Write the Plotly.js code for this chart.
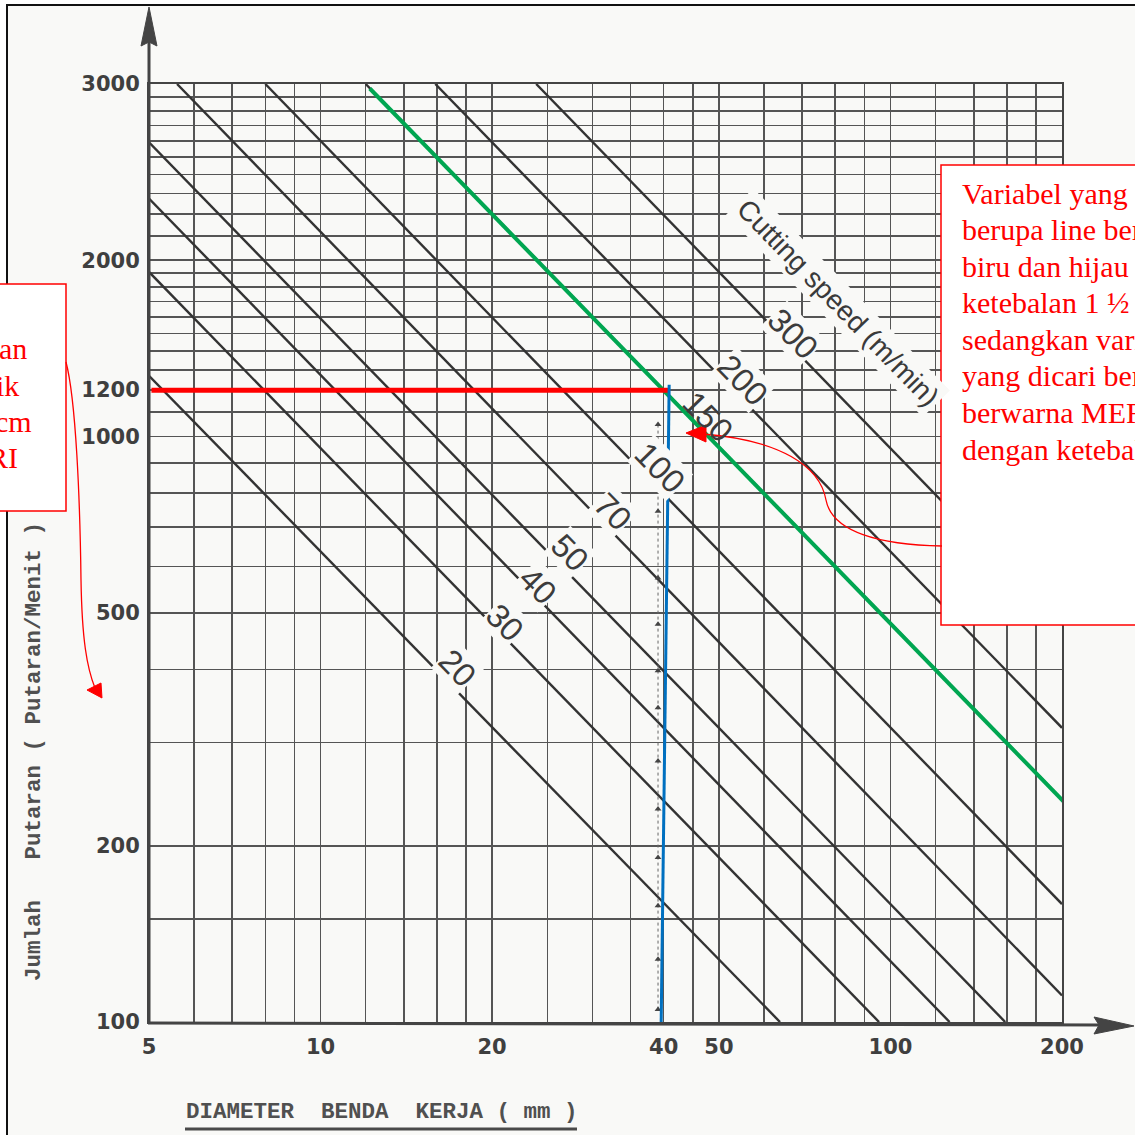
<!DOCTYPE html>
<html>
<head>
<meta charset="utf-8">
<script src="https://cdn.plot.ly/plotly-3.0.1.min.js"></script>
<style>
html,body{margin:0;padding:0;background:#ffffff;}
#chart{width:1135px;height:1135px;}
</style>
</head>
<body>
<div id="chart"></div>
<script>
// ---------------- DATA ----------------
// x axis: diameter of workpiece (mm), log scale
const diameterGrid = [5,6,7,8,9,10,12,14,16,18,20,25,30,35,40,45,50,60,70,80,90,100,120,140,160,180,200];
const diameterLabelVals = [5,10,20,40,50,100,200];
const diameterLabelText = ['5','10','20','40','50','100','200'];

// y axis: revolutions per minute, log scale
const rpmGrid = [100,150,200,300,400,500,600,700,800,900,1000,1100,1200,1300,1400,1500,1600,1700,1800,1900,2000,2200,2400,2600,2800,3000,3200,3400,3600,3800,4000];
const rpmLabelVals = [100,200,500,1000,1200,2000,4000];
const rpmLabelText = ['100','200','500','1000','1200','2000','3000'];

// cutting speed lines (m/min) and their end points
const cuttingSpeeds = [20,30,40,50,70,100,150,200,300];
const speedStartD  = [5,    5,    5,    5,    5.6,  8.0,  12.0, 15.9, 23.9];
const speedStartN  = [1270, 1910, 2550, 3180, 4000, 4000, 4000, 4000, 4000];
const speedEndD    = [64,   95.5, 127,  159,  200,  200,  200,  200,  200];
const speedEndN    = [100,  100,  100,  100,  111,  159,  240,  318,  477];

// highlighted reading lines
const redLineD   = [5.05, 41.0];
const redLineN   = [1200, 1200];
const blueLineD  = [40.9, 39.6];
const blueLineN  = [1226, 100];
const greenLineD = [12.2, 204.8];
const greenLineN = [3930, 234];

// small arrow marks along the original dashed guide at D = 40
const guideD = 39.1;
const guideMarkN = [1048, 896, 745, 573, 478, 398, 344, 279, 231, 191, 158, 128, 105];

// ---------------- LAYOUT HELPERS ----------------
const L = 149, R = 1062, T = 84, B = 1022;
const PX = x => (x - L) / (R - L);
const PY = y => (B - y) / (B - T);
const pp = (x, y) => PX(x).toFixed(5) + ',' + PY(y).toFixed(5);

const paperBg = '#f9f9f7';
const inkDark = '#333333';

// ---------------- TRACES ----------------
const traces = [];
cuttingSpeeds.forEach((v, i) => {
  traces.push({
    x: [speedStartD[i], speedEndD[i]],
    y: [speedStartN[i], speedEndN[i]],
    type: 'scatter', mode: 'lines',
    line: {color: inkDark, width: 2.4},
    name: v + ' m/min', hoverinfo: 'skip', showlegend: false
  });
});
traces.push({
  x: guideMarkN.map(() => guideD), y: guideMarkN,
  type: 'scatter', mode: 'lines+markers',
  line: {color: '#666', width: 1, dash: 'dot'},
  marker: {symbol: 'triangle-up', size: 6, color: '#444'},
  hoverinfo: 'skip', showlegend: false
});
traces.push({x: greenLineD, y: greenLineN, type: 'scatter', mode: 'lines',
  line: {color: '#00a651', width: 4}, hoverinfo: 'skip', showlegend: false});
traces.push({x: redLineD, y: redLineN, type: 'scatter', mode: 'lines',
  line: {color: '#ff0000', width: 5}, hoverinfo: 'skip', showlegend: false});
traces.push({x: blueLineD, y: blueLineN, type: 'scatter', mode: 'lines',
  line: {color: '#0070c0', width: 3}, hoverinfo: 'skip', showlegend: false});

// ---------------- ANNOTATIONS ----------------
const speedLabelPos = [[457,668],[505,622],[538,585],[570,552],[613,511],[660,467],[708,416],[742,380],[793,333]];
const annotations = [];
cuttingSpeeds.forEach((v, i) => {
  annotations.push({
    xref: 'paper', yref: 'paper',
    x: PX(speedLabelPos[i][0]), y: PY(speedLabelPos[i][1]),
    xanchor: 'center', yanchor: 'middle',
    text: String(v), showarrow: false, textangle: 45.8,
    font: {family: 'Liberation Sans, Arial, sans-serif', size: 33, color: '#3c3c3c'},
    bgcolor: v === 150 ? 'rgba(0,0,0,0)' : paperBg, borderpad: 0
  });
});
annotations.push({
  xref: 'paper', yref: 'paper', x: PX(838), y: PY(302),
  xanchor: 'center', yanchor: 'middle', showarrow: false, textangle: 45.8,
  text: 'Cutting speed (m/min)',
  font: {family: 'Liberation Sans, Arial, sans-serif', size: 28, color: '#3a3a3a'},
  bgcolor: paperBg, borderpad: 3
});
// axis titles
annotations.push({
  xref: 'paper', yref: 'paper', x: PX(34), y: PY(752),
  xanchor: 'center', yanchor: 'middle', showarrow: false, textangle: -90,
  text: 'Jumlah\u00a0\u00a0\u00a0Putaran\u00a0(\u00a0Putaran/Menit\u00a0)',
  font: {family: 'Liberation Mono, Courier New, monospace', size: 22.5, color: '#505050', weight: 'bold'}
});
annotations.push({
  xref: 'paper', yref: 'paper', x: PX(184), y: PY(1112),
  xanchor: 'left', yanchor: 'middle', showarrow: false,
  text: 'DIAMETER\u00a0\u00a0BENDA\u00a0\u00a0KERJA\u00a0(\u00a0mm\u00a0)',
  font: {family: 'Liberation Mono, Courier New, monospace', size: 22.5, color: '#505050', weight: 'bold'}
});
// red note box (right), one annotation per printed line
const noteFont = {family: 'Liberation Serif, Times New Roman, serif', size: 30, color: '#ff0000'};
const rightNote = ['Variabel yang diketahui', 'berupa line berwarna', 'biru dan hijau dengan',
  'ketebalan 1 ½', 'sedangkan variabel', 'yang dicari berupa', 'berwarna MERAH', 'dengan ketebalan'];
rightNote.forEach((t, i) => annotations.push({
  xref: 'paper', yref: 'paper', x: PX(960), y: PY(193 + i * 36.6),
  xanchor: 'left', yanchor: 'middle', showarrow: false, text: t, font: noteFont
}));
// red note box (left), only the right ends are on the page
const leftNote = [['an', 29, 349], ['ik', 21, 385], ['cm', 34, 421], ['RI', 20, 458]];
leftNote.forEach(t => annotations.push({
  xref: 'paper', yref: 'paper', x: PX(t[1]), y: PY(t[2]),
  xanchor: 'right', yanchor: 'middle', showarrow: false, text: t[0], font: noteFont
}));

// ---------------- SHAPES ----------------
const shapes = [
  // scanned page frame
  {type: 'rect', xref: 'paper', yref: 'paper', x0: PX(7), x1: PX(1145), y0: PY(5), y1: PY(1145),
   line: {color: '#111', width: 2}, fillcolor: paperBg, layer: 'below'},
  // y axis with arrow
  {type: 'line', xref: 'paper', yref: 'paper', x0: PX(149), x1: PX(149), y0: PY(1024), y1: PY(40),
   line: {color: '#444', width: 3}, layer: 'above'},
  {type: 'path', xref: 'paper', yref: 'paper',
   path: `M ${pp(149,7)} L ${pp(157,46)} L ${pp(149,42)} L ${pp(141,46)} Z`,
   fillcolor: '#444', line: {color: '#444', width: 1}, layer: 'above'},
  // x axis with arrow
  {type: 'line', xref: 'paper', yref: 'paper', x0: PX(148), x1: PX(1100), y0: PY(1023), y1: PY(1025),
   line: {color: '#444', width: 3}, layer: 'above'},
  {type: 'path', xref: 'paper', yref: 'paper',
   path: `M ${pp(1134,1026)} L ${pp(1094,1017)} L ${pp(1099,1025)} L ${pp(1094,1034)} Z`,
   fillcolor: '#444', line: {color: '#444', width: 1}, layer: 'above'},
  // underline of x title
  {type: 'line', xref: 'paper', yref: 'paper', x0: PX(185), x1: PX(577), y0: PY(1129), y1: PY(1129),
   line: {color: '#4a4a4a', width: 3}, layer: 'above'},
  // red note boxes
  {type: 'rect', xref: 'paper', yref: 'paper', x0: PX(941), x1: PX(1150), y0: PY(165), y1: PY(625),
   line: {color: '#ff0000', width: 1.5}, fillcolor: '#ffffff', layer: 'above'},
  {type: 'rect', xref: 'paper', yref: 'paper', x0: PX(-20), x1: PX(66), y0: PY(284), y1: PY(511),
   line: {color: '#ff0000', width: 1.5}, fillcolor: '#ffffff', layer: 'above'},
  // curved red arrows
  {type: 'path', xref: 'paper', yref: 'paper',
   path: `M ${pp(942,546)} C ${pp(880,545)} ${pp(832,532)} ${pp(826,500)} C ${pp(820,466)} ${pp(780,440)} ${pp(703,434)}`,
   line: {color: '#ff0000', width: 1.3}, layer: 'above'},
  {type: 'path', xref: 'paper', yref: 'paper',
   path: `M ${pp(686,433)} L ${pp(706,425)} L ${pp(706,442)} Z`,
   fillcolor: '#ff0000', line: {color: '#ff0000', width: 1}, layer: 'above'},
  {type: 'path', xref: 'paper', yref: 'paper',
   path: `M ${pp(66,362)} C ${pp(76,400)} ${pp(80,500)} ${pp(81,580)} C ${pp(82,640)} ${pp(87,668)} ${pp(95,688)}`,
   line: {color: '#ff0000', width: 1.3}, layer: 'above'},
  {type: 'path', xref: 'paper', yref: 'paper',
   path: `M ${pp(102,698)} L ${pp(87,690)} L ${pp(101,683)} Z`,
   fillcolor: '#ff0000', line: {color: '#ff0000', width: 1}, layer: 'above'}
];

// ---------------- AXES ----------------
const xTickText = diameterGrid.map(v => { const k = diameterLabelVals.indexOf(v); return k >= 0 ? diameterLabelText[k] : ''; });
const yTickText = rpmGrid.map(v => { const k = rpmLabelVals.indexOf(v); return k >= 0 ? rpmLabelText[k] : ''; });
const tickFont = {family: 'DejaVu Sans, sans-serif', size: 21, color: '#3f3f3f', weight: 'bold'};

const layout = {
  width: 1135, height: 1135, autosize: false,
  margin: {l: L, r: 1135 - R, t: T, b: 1135 - B, pad: 0},
  paper_bgcolor: '#ffffff', plot_bgcolor: 'rgba(0,0,0,0)',
  showlegend: false,
  xaxis: {
    type: 'log', range: [Math.log10(5), Math.log10(200)],
    tickmode: 'array', tickvals: diameterGrid, ticktext: xTickText,
    showgrid: true, gridcolor: '#555', gridwidth: 1.6,
    showline: true, mirror: true, linecolor: '#444', linewidth: 2,
    ticks: '', zeroline: false, tickfont: tickFont, ticklabelstandoff: 5,
    automargin: false, fixedrange: true
  },
  yaxis: {
    type: 'log', range: [2, Math.log10(4000)],
    tickmode: 'array', tickvals: rpmGrid, ticktext: yTickText,
    showgrid: true, gridcolor: '#555', gridwidth: 1.6,
    showline: true, mirror: true, linecolor: '#444', linewidth: 2,
    ticks: '', zeroline: false, tickfont: tickFont, ticklabelstandoff: 3,
    automargin: false, fixedrange: true
  },
  annotations: annotations,
  shapes: shapes
};

Plotly.newPlot('chart', traces, layout, {displayModeBar: false, staticPlot: true});
</script>
</body>
</html>
